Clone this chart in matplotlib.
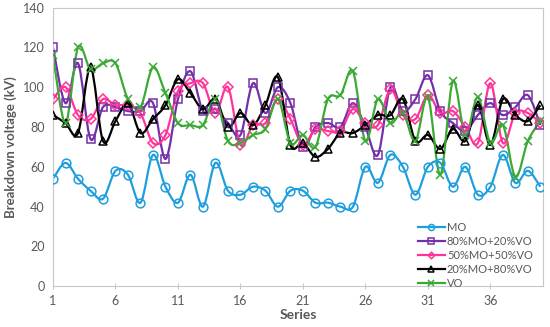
import matplotlib.pyplot as plt
import numpy as np
from matplotlib.path import Path
from matplotlib.patches import PathPatch

plt.rcParams['font.family'] = ['Lato', 'DejaVu Sans']

series = np.arange(1, 41)
mo = [54, 62, 54, 48, 44, 58, 56, 42, 66, 50, 42, 56, 40, 62, 48, 46, 50, 48, 40, 48,
      48, 42, 42, 40, 40, 60, 52, 66, 60, 46, 60, 62, 50, 60, 46, 50, 66, 52, 58, 50]
mo80 = [120, 92, 112, 74, 90, 90, 88, 88, 92, 64, 94, 108, 88, 89, 82, 76, 102, 87, 100, 92,
        70, 80, 82, 80, 92, 80, 66, 100, 88, 94, 106, 88, 82, 78, 86, 92, 86, 90, 96, 81]
mo50 = [94, 100, 86, 84, 94, 91, 91, 87, 72, 76, 98, 102, 102, 87, 100, 71, 81, 82, 94, 84,
        71, 79, 78, 78, 89, 82, 81, 99, 86, 84, 96, 87, 88, 80, 72, 102, 72, 87, 87, 82]
mo20 = [86, 82, 77, 110, 73, 83, 92, 77, 84, 91, 104, 97, 89, 94, 80, 87, 81, 91, 105, 71,
        72, 65, 69, 77, 77, 81, 86, 86, 94, 73, 76, 69, 79, 73, 91, 71, 94, 86, 83, 91]
vo = [116, 82, 120, 109, 112, 112, 94, 90, 110, 97, 82, 81, 81, 94, 73, 72, 76, 79, 94, 72,
      76, 70, 94, 96, 108, 73, 94, 82, 87, 73, 95, 56, 103, 76, 95, 72, 81, 55, 73, 83]

labels = ["MO", "80%MO+20%VO", "50%MO+50%VO", "20%MO+80%VO", "VO"]
colors = ["#1f9ede", "#7330a8", "#ff3399", "#000000", "#3aaa35"]
markers = ["o", "s", "D", "^", "x"]
sizes = [6.3, 6.3, 4.7, 6.3, 6.3]


def smooth_path(x, y):
    # excel style smoothed line: cubic bezier through every point
    x = np.asarray(x, float)
    y = np.asarray(y, float)
    px = np.concatenate([[x[0]], x, [x[-1]]])
    py = np.concatenate([[y[0]], y, [y[-1]]])
    verts = [(x[0], y[0])]
    codes = [Path.MOVETO]
    for i in range(1, len(x)):
        c1 = (px[i] + (px[i + 1] - px[i - 1]) / 6, py[i] + (py[i + 1] - py[i - 1]) / 6)
        c2 = (px[i + 1] - (px[i + 2] - px[i]) / 6, py[i + 1] - (py[i + 2] - py[i]) / 6)
        verts += [c1, c2, (px[i + 1], py[i + 1])]
        codes += [Path.CURVE4] * 3
    return Path(verts, codes)


fig = plt.figure(figsize=(5.5, 3.27), dpi=100)
ax = fig.add_axes([0.0964, 0.1245, 0.8906, 0.8523])

for vals, lab, c, m, s in zip([mo, mo80, mo50, mo20, vo], labels, colors, markers, sizes):
    ax.add_patch(PathPatch(smooth_path(series, vals), facecolor="none", edgecolor=c, lw=1.6, zorder=2))
    ax.plot(series, vals, linestyle="none", marker=m, markersize=s, markerfacecolor="none",
            markeredgecolor=c, markeredgewidth=1.1, zorder=3)
    ax.plot([], [], color=c, lw=1.6, marker=m, markersize=s * 0.7, markerfacecolor="none",
            markeredgecolor=c, markeredgewidth=1.1, label=lab)

ax.set_xlim(1, 40.2)
ax.set_ylim(0, 140)
ax.set_xticks(np.arange(1, 40, 5))
ax.set_yticks(np.arange(0, 141, 20))
for sp in ax.spines.values():
    sp.set_color("#c8c8c8")
ax.tick_params(axis="x", colors="#c8c8c8", direction="inout", length=5, labelcolor="#595959", labelsize=9, pad=4)
ax.tick_params(axis="y", length=0, labelcolor="#595959", labelsize=9, pad=6)
ax.set_xlabel("Series", fontsize=10, fontweight="bold", color="#595959", labelpad=1)
ax.set_ylabel("Breakdown voltage (kV)", fontsize=9.5, fontweight="bold", color="#595959", labelpad=4)

ax.legend(loc="lower left", bbox_to_anchor=(0.752, 0.103), bbox_transform=fig.transFigure,
          frameon=False, fontsize=8, handlelength=2.4, handletextpad=0.2, labelspacing=0.27,
          borderaxespad=0, labelcolor="#595959")

fig.savefig("out.png", dpi=100)
